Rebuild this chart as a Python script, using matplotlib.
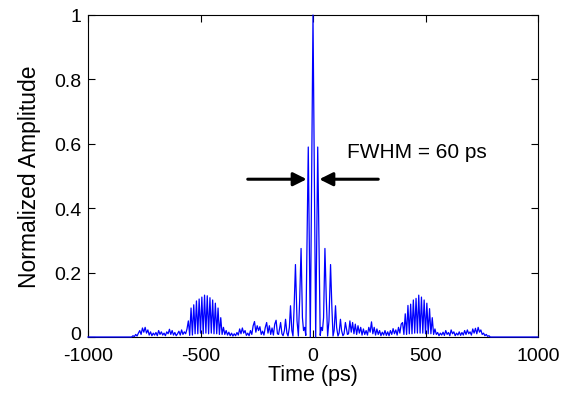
import numpy as np
import matplotlib
matplotlib.use("Agg")
import matplotlib.pyplot as plt
import matplotlib.transforms as mtransforms

plt.rcParams['font.family'] = ['Liberation Sans', 'DejaVu Sans']

# ---- data ----
x_ticks = [-1000, -500, 0, 500, 1000]
x_tick_labels = ['-1000', '-500', '0', '500', '1000']
y_ticks = [0, 0.2, 0.4, 0.6, 0.8, 1.0]
y_tick_labels = ['0', '0.2', '0.4', '0.6', '0.8', '1']

flat_left_t = [-1000, -806]
flat_left_a = [0.0, 0.0]

left_tail_start, left_tail_step = -800, 6
left_tail_a = [0.004, 0.001, 0.008, 0.003, 0.012, 0.02, 0.008, 0.028, 0.015, 0.03,
               0.012, 0.022, 0.006, 0.016, 0.004, 0.012, 0.006, 0.014, 0.004, 0.02,
               0.008, 0.016, 0.006, 0.012, 0.004, 0.016, 0.01, 0.024, 0.008, 0.02,
               0.006, 0.014, 0.004, 0.01, 0.018, 0.006, 0.022, 0.008, 0.016, 0.01,
               0.025]

left_lobe_start, left_lobe_step = -554, 6
left_lobe_a = [0.05, 0.005, 0.09, 0.006, 0.10, 0.01, 0.112, 0.01, 0.118, 0.012,
               0.124, 0.01, 0.13, 0.012, 0.128, 0.01, 0.122, 0.012, 0.115, 0.01,
               0.105, 0.01, 0.09, 0.008, 0.06, 0.008, 0.03]

left_mid_start, left_mid_step = -392, 6
left_mid_a = [0.008, 0.02, 0.006, 0.015, 0.004, 0.012, 0.003, 0.01, 0.004, 0.014,
              0.006, 0.025, 0.01, 0.028, 0.012, 0.02, 0.005, 0.012, 0.004, 0.02,
              0.008, 0.035, 0.048, 0.015, 0.035, 0.02, 0.032, 0.008, 0.018, 0.006,
              0.03, 0.045, 0.012, 0.035, 0.008, 0.028, 0.006, 0.04, 0.052, 0.01]

center_t = [-153, -144, -138, -133, -127, -122, -116, -111, -105, -100, -94, -89, -84,
            -78, -71, -65, -59, -53, -47, -42, -37, -32, -21, -12,
            0, 12, 21, 32, 37, 42, 47, 53, 59, 65, 71, 78, 84, 89, 94, 100, 105, 111,
            116, 122, 127, 133, 138, 144, 153]
center_a = [0.008, 0.045, 0.01, 0.004, 0.02, 0.055, 0.012, 0.003, 0.03, 0.097, 0.02,
            0.003, 0.09, 0.225, 0.05, 0.003, 0.12, 0.275, 0.06, 0.02, 0.03,
            0.005, 0.59, 0.0, 1.0, 0.0, 0.59, 0.005, 0.03, 0.02, 0.06, 0.275, 0.12,
            0.003, 0.05, 0.225, 0.09, 0.003, 0.02, 0.097, 0.03, 0.003, 0.012, 0.055,
            0.02, 0.004, 0.01, 0.045, 0.008]

right_mid_start, right_mid_step = 158, 6
right_mid_a = [0.01, 0.05, 0.015, 0.045, 0.01, 0.04, 0.008, 0.035, 0.012, 0.03,
               0.006, 0.025, 0.008, 0.02, 0.006, 0.03, 0.015, 0.047, 0.01, 0.03,
               0.006, 0.025, 0.008, 0.02, 0.004, 0.015, 0.006, 0.02, 0.005, 0.016,
               0.004, 0.02, 0.008, 0.026, 0.01, 0.022, 0.006, 0.03, 0.012, 0.04]

right_lobe_start, right_lobe_step = 398, 6
right_lobe_a = [0.045, 0.008, 0.072, 0.008, 0.098, 0.01, 0.102, 0.01, 0.115, 0.012,
                0.12, 0.012, 0.13, 0.012, 0.124, 0.012, 0.115, 0.01, 0.105, 0.01,
                0.088, 0.01, 0.06, 0.008, 0.025]

right_tail_start, right_tail_step = 548, 6
right_tail_a = [0.008, 0.014, 0.004, 0.012, 0.006, 0.015, 0.005, 0.02, 0.008, 0.014,
                0.004, 0.022, 0.01, 0.016, 0.004, 0.012, 0.006, 0.016, 0.005, 0.014,
                0.006, 0.02, 0.008, 0.022, 0.01, 0.016, 0.006, 0.025, 0.012, 0.027,
                0.01, 0.03, 0.015, 0.022, 0.008, 0.012, 0.004, 0.008, 0.002, 0.004,
                0.0]

flat_right_t = [794, 1000]
flat_right_a = [0.0, 0.0]

fwhm_text = 'FWHM = 60 ps'
fwhm_level = 0.49
fwhm_arrow_tails = [-290, 290]
fwhm_arrow_tips = [-28, 28]


def grid(start, step, values):
    return start + step * np.arange(len(values))


time = np.concatenate([
    flat_left_t,
    grid(left_tail_start, left_tail_step, left_tail_a),
    grid(left_lobe_start, left_lobe_step, left_lobe_a),
    grid(left_mid_start, left_mid_step, left_mid_a),
    center_t,
    grid(right_mid_start, right_mid_step, right_mid_a),
    grid(right_lobe_start, right_lobe_step, right_lobe_a),
    grid(right_tail_start, right_tail_step, right_tail_a),
    flat_right_t,
])
amp = np.concatenate([flat_left_a, left_tail_a, left_lobe_a, left_mid_a, center_a,
                      right_mid_a, right_lobe_a, right_tail_a, flat_right_a])

# ---- figure ----
W, H = 569, 402
fig = plt.figure(figsize=(W / 100, H / 100), dpi=100)
ax = fig.add_axes([88 / W, 64 / H, 450 / W, 322 / H])

ax.plot(time, amp, color='#0000ff', lw=0.9, zorder=3, clip_on=False)

ax.set_xlim(-1000, 1000)
ax.set_ylim(0, 1)
ax.set_xticks(x_ticks)
ax.set_xticklabels(x_tick_labels)
ax.set_yticks(y_ticks)
ax.set_yticklabels(y_tick_labels)

for s in ax.spines.values():
    s.set_linewidth(0.8)
    s.set_color('black')
ax.tick_params(direction='in', length=5, width=0.8, top=True, right=True,
               labelsize=14)
ax.tick_params(axis='x', pad=7)
ax.tick_params(axis='y', pad=5)

# nudge the "0" y tick label up slightly so it does not collide with "-1000"
zero_lbl = ax.get_yticklabels()[0]
zero_lbl.set_transform(zero_lbl.get_transform() +
                       mtransforms.ScaledTranslation(0, 3 / 72, fig.dpi_scale_trans))

ax.set_xlabel('Time (ps)', fontsize=15.5, labelpad=0)
ax.set_ylabel('Normalized Amplitude', fontsize=16.5, labelpad=9)

for tail, tip in zip(fwhm_arrow_tails, fwhm_arrow_tips):
    ax.annotate('', xy=(tip, fwhm_level), xytext=(tail, fwhm_level),
                arrowprops=dict(arrowstyle='-|>', lw=2.2, color='black',
                                mutation_scale=20, shrinkA=0, shrinkB=0))

ax.text(150, 0.575, fwhm_text, fontsize=15, va='center', ha='left')

fig.savefig('out.png', dpi=100)
